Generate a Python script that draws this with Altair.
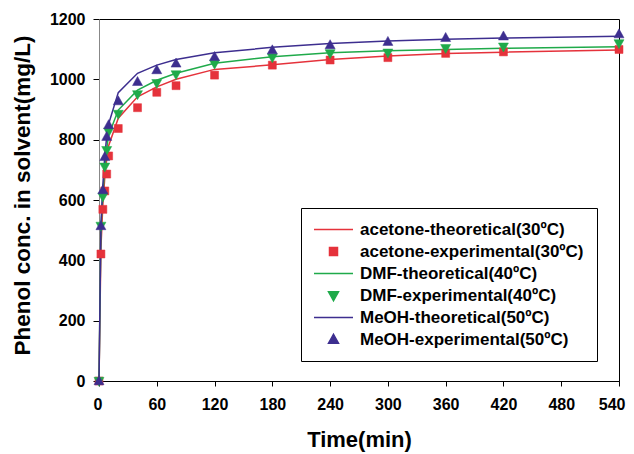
import altair as alt
import pandas as pd

# ---- data ----
times = [0, 2, 4, 6, 8, 10, 20, 40, 60, 80, 120, 180, 240, 300, 360, 420, 540]

acetone_exp = [0, 421, 569, 630, 686, 746, 837, 906, 957, 979, 1014, 1047, 1064, 1072, 1086, 1091, 1099]
dmf_exp = [0, 514, 611, 710, 765, 826, 885, 950, 987, 1016, 1051, 1072, 1086, 1088, 1103, 1108, 1119]
meoh_exp = [0, 514, 633, 743, 810, 849, 928, 992, 1031, 1053, 1075, 1097, 1114, 1125, 1138, 1143, 1150]

acetone_theo = [0, 440, 585, 675, 735, 780, 871, 942, 975, 1000, 1033, 1048, 1066, 1077, 1086, 1090, 1097]
dmf_theo = [0, 505, 620, 705, 770, 815, 898, 964, 997, 1020, 1053, 1075, 1088, 1095, 1099, 1103, 1108]
meoh_theo = [0, 520, 650, 745, 810, 852, 956, 1020, 1047, 1066, 1088, 1106, 1119, 1127, 1133, 1137, 1143]

labels = [
    "acetone-theoretical(30ºC)",
    "acetone-experimental(30ºC)",
    "DMF-theoretical(40ºC)",
    "DMF-experimental(40ºC)",
    "MeOH-theoretical(50ºC)",
    "MeOH-experimental(50ºC)",
]
colors = ["#E5323B", "#E5323B", "#1FAA4A", "#1FAA4A", "#3D2E8F", "#3D2E8F"]

x_ticks = list(range(0, 541, 60))
y_ticks = list(range(0, 1201, 200))

# ---- tables ----
line_rows = []
for lab, vals in [(labels[0], acetone_theo), (labels[2], dmf_theo), (labels[4], meoh_theo)]:
    for t, v in zip(times, vals):
        line_rows.append({"time": t, "conc": v, "series": lab})
lines_df = pd.DataFrame(line_rows)

pt_rows = []
for lab, vals in [(labels[1], acetone_exp), (labels[3], dmf_exp), (labels[5], meoh_exp)]:
    for t, v in zip(times, vals):
        pt_rows.append({"time": t, "conc": v, "series": lab})
points_df = pd.DataFrame(pt_rows)

# symbol paths (size 100 -> unit = 5px)
LINE = "M-3.9,0H3.9"
SQUARE = "M-0.8,-0.8H0.8V0.8H-0.8Z"
TRI_DOWN = "M-1,-0.75H1L0,1.05Z"
TRI_UP = "M0,-1.05L1,0.75H-1Z"
shapes = [LINE, SQUARE, LINE, TRI_DOWN, LINE, TRI_UP]
SYM = 100

FONT = "Liberation Sans"

legend = alt.Legend(
    title=None,
    orient="none",
    legendX=202,
    legendY=189,
    padding=13,
    strokeColor="black",
    fillColor="white",
    labelFont=FONT,
    labelFontSize=17,
    labelFontWeight="bold",
    labelColor="black",
    symbolOffset=11,
    labelOffset=18,
    labelLimit=400,
    rowPadding=4,
    symbolSize=SYM,
    symbolStrokeWidth=1.5,
    symbolOpacity=1,
)

stroke = alt.Stroke(
    "series:N",
    scale=alt.Scale(domain=labels, range=colors),
    legend=legend,
)
fill = alt.Fill(
    "series:N",
    scale=alt.Scale(domain=labels, range=colors),
    legend=legend,
)

x = alt.X(
    "time:Q",
    scale=alt.Scale(domain=[0, 540], nice=False, zero=False),
    axis=alt.Axis(
        values=x_ticks,
        title="Time(min)",
        titleY=65,
        titleBaseline="alphabetic",
        labelPadding=10,
        labelFlush=True,
        labelFlushOffset=6,
        tickSize=5,
    ),
)
y = alt.Y(
    "conc:Q",
    scale=alt.Scale(domain=[0, 1200], nice=False),
    axis=alt.Axis(
        values=y_ticks,
        format="d",
        title="Phenol conc. in solvent(mg/L)",
        titleX=-70,
        titleY=176,
        titleBaseline="alphabetic",
        titleAngle=-90,
        titleAlign="center",
        labelPadding=8,
        labelFlush=False,
        tickSize=6,
        domainColor="#888888",
    ),
)

lines = alt.Chart(lines_df).mark_line(strokeWidth=1.5, clip=False).encode(
    x=x, y=y, stroke=stroke, detail="series:N"
)

points = alt.Chart(points_df).mark_point(filled=False, size=SYM, opacity=1, strokeWidth=0.5).encode(
    x=x,
    y=y,
    stroke=stroke,
    fill=fill,
    shape=alt.Shape("series:N", scale=alt.Scale(domain=labels, range=shapes), legend=legend),
)

chart = (
    alt.layer(lines, points)
    .properties(
        width=520,
        height=362,
        autosize=alt.AutoSizeParams(type="none"),
        padding={"left": 91, "top": 11, "right": 7, "bottom": 73},
        background="white",
    )
    .configure_view(stroke="black", strokeWidth=1)
    .configure_axis(
        grid=False,
        labelFont=FONT,
        labelFontSize=16,
        labelFontWeight="bold",
        labelColor="black",
        titleFont=FONT,
        titleFontWeight="bold",
        titleColor="black",
        domainColor="black",
        tickColor="black",
        domainWidth=1,
        tickWidth=1,
    )
    .configure_axisX(titleFontSize=22)
    .configure_axisY(titleFontSize=22.5)
)

chart.save("out.html", embed_options={"renderer": "svg", "actions": False})
